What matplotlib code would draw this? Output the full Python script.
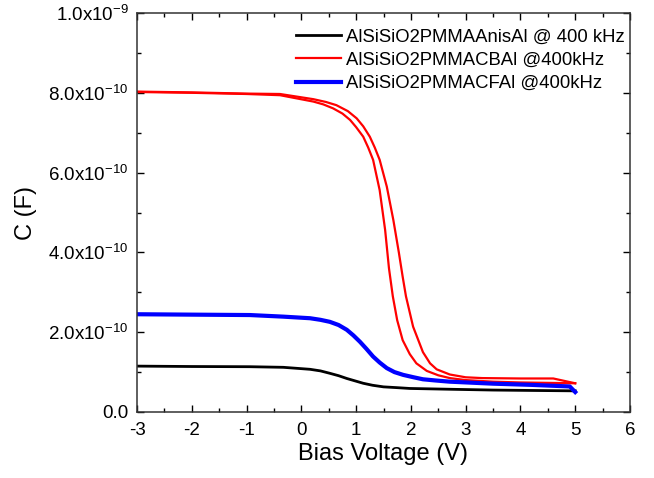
import matplotlib
matplotlib.use("Agg")
import matplotlib.pyplot as plt
from matplotlib.ticker import FuncFormatter, MultipleLocator

plt.rcParams["font.family"] = ["Liberation Sans", "DejaVu Sans"]
plt.rcParams["mathtext.default"] = "regular"
plt.rcParams["axes.unicode_minus"] = False

# C-V data (capacitance in units of 1e-9 F)
black_v = [-3, -2, -0.94, -0.33, 0.16, 0.35, 0.52, 0.68, 0.83, 0.98, 1.13, 1.30, 1.50,
           1.75, 1.98, 2.71, 3.5, 4.2, 5.0]
black_c = [0.115, 0.114, 0.1135, 0.112, 0.107, 0.103, 0.097, 0.091, 0.084, 0.078,
           0.072, 0.067, 0.063, 0.061, 0.059, 0.057, 0.055, 0.054, 0.053]

red_a_v = [-3, -2, -1, -0.39, 0.22, 0.40, 0.58, 0.75, 0.89, 1.0, 1.13, 1.22, 1.31,
           1.43, 1.53, 1.60, 1.67, 1.75, 1.85, 1.98, 2.10, 2.29, 2.50, 2.71, 3.0,
           3.5, 4.0, 4.5, 5.0]
red_a_c = [0.802, 0.800, 0.797, 0.794, 0.778, 0.771, 0.761, 0.748, 0.732, 0.714,
           0.690, 0.663, 0.632, 0.556, 0.456, 0.360, 0.290, 0.230, 0.180, 0.145,
           0.122, 0.103, 0.092, 0.085, 0.080, 0.076, 0.074, 0.073, 0.072]

red_b_v = [-3, -2, -1, -0.39, 0.22, 0.45, 0.64, 0.85, 1.01, 1.13, 1.25, 1.34, 1.43,
           1.56, 1.68, 1.78, 1.85, 1.91, 2.04, 2.22, 2.35, 2.47, 2.71, 3.0, 3.3,
           4.0, 4.6, 5.0]
red_b_c = [0.803, 0.801, 0.798, 0.797, 0.784, 0.777, 0.769, 0.754, 0.736, 0.716,
           0.690, 0.663, 0.632, 0.565, 0.481, 0.400, 0.339, 0.290, 0.214, 0.150,
           0.122, 0.107, 0.094, 0.087, 0.085, 0.084, 0.084, 0.072]

blue_v = [-3, -2, -0.94, -0.33, 0.16, 0.35, 0.52, 0.68, 0.83, 0.95, 1.07, 1.19, 1.31,
          1.43, 1.56, 1.70, 1.86, 2.05, 2.22, 2.45, 2.71, 3.5, 4.2, 4.9, 5.0]
blue_c = [0.245, 0.244, 0.243, 0.239, 0.235, 0.231, 0.226, 0.218, 0.206, 0.192,
          0.176, 0.158, 0.139, 0.124, 0.110, 0.100, 0.093, 0.087, 0.082, 0.079,
          0.076, 0.071, 0.068, 0.064, 0.050]

labels = ["AlSiSiO2PMMAAnisAl @ 400 kHz",
          "AlSiSiO2PMMACBAl @400kHz",
          "AlSiSiO2PMMACFAl @400kHz"]


def scale(vals):
    return [v * 1e-9 for v in vals]


def cap_fmt(val, pos):
    if abs(val) < 1e-15:
        return "0.0"
    exp = int(f"{val:e}".split("e")[1])
    mant = val / 10 ** exp
    return f"{mant:.1f}x10$^{{{exp}}}$"


def main():
    fig = plt.figure(figsize=(6.54, 4.78), dpi=100)
    ax = fig.add_axes([137 / 654, 1 - 412 / 478, 493 / 654, 399 / 478])

    ax.plot(black_v, scale(black_c), color="black", lw=2.0, label=labels[0])
    ax.plot(red_a_v, scale(red_a_c), color="red", lw=1.6, label=labels[1])
    ax.plot(red_b_v, scale(red_b_c), color="red", lw=1.6)
    ax.plot(blue_v, scale(blue_c), color="blue", lw=3.0, label=labels[2])

    ax.set_xlim(-3, 6)
    ax.set_ylim(0, 1e-9)
    ax.xaxis.set_major_locator(MultipleLocator(1))
    ax.xaxis.set_minor_locator(MultipleLocator(0.5))
    ax.yaxis.set_major_locator(MultipleLocator(2e-10))
    ax.yaxis.set_minor_locator(MultipleLocator(1e-10))
    ax.yaxis.set_major_formatter(FuncFormatter(cap_fmt))

    ax.tick_params(which="both", direction="in", top=True, right=True,
                   labelsize=13.5, width=1.0)
    ax.tick_params(which="major", length=5)
    ax.tick_params(which="minor", length=3)
    ax.tick_params(axis="x", which="major", pad=7)
    ax.tick_params(axis="y", which="major", pad=6)
    for s in ax.spines.values():
        s.set_linewidth(1.1)
        s.set_color("#333333")

    ax.set_xlabel("Bias Voltage (V)", fontsize=17, labelpad=3)
    ax.set_ylabel("C (F)", fontsize=17, labelpad=8)

    ax.legend(loc="upper right", frameon=False, fontsize=13.3, handlelength=2.4,
              handletextpad=0.27, labelspacing=0.34, borderpad=0.0,
              borderaxespad=0.3, bbox_to_anchor=(1.0, 1 - 10 / 399))

    fig.savefig("out.png", dpi=100)


if __name__ == "__main__":
    main()
